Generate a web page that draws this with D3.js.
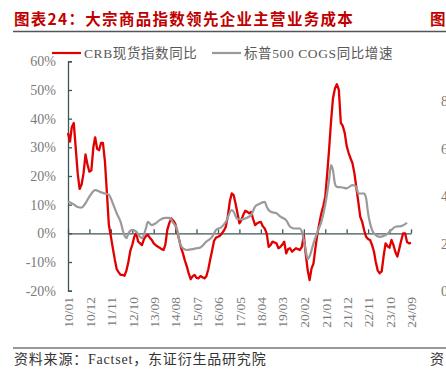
<!DOCTYPE html>
<html>
<head>
<meta charset="utf-8">
<script src="https://cdn.jsdelivr.net/npm/d3@7"></script>
<style>
  body { margin: 0; background: #fff; }
  svg { display: block; }
  text { font-family: "Liberation Serif", "Noto Sans CJK SC", serif; }
</style>
</head>
<body>
<svg id="chart" width="446" height="376"></svg>
<script>
// ---------------------------------------------------------------- data
var crbStart = "2010-01";
// CRB spot index, YoY %, monthly 2010-01 .. 2024-09
var crbValues = [
  35, 32, 37, 38.5, 30, 21, 15.5, 17, 21, 27.5, 24, 21.5,
  22, 30, 33.5, 29.5, 29, 31.5, 31.5, 25, 14, 3, -1, -5,
  -9, -12.5, -13.5, -14.5, -14.5, -14.8, -13, -10, -6, -4, -1.2, 0,
  -2.9, -3.5, -4.1, -2, -1, -0.5, -1.5, -2.3, -3.5, -4.1, -4.6, -5,
  -5.5, -5.8, -4, 1.2, 3.5, 5.2, 4.5, 3.5, 0.6, -2, -5, -7,
  -9.5, -11.6, -14, -16, -15, -14.5, -15.5, -15.7, -14.9, -15.3, -15.7, -15,
  -12.5, -9, -6, -2.5, -1.5, -1.2, -0.8, 0, 1, 2.3, 6, 11,
  13.9, 13.3, 10.5, 7, 3.5, 4.6, 6.5, 7.9, 7.5, 7, 7.5, 5,
  2.9, 3.5, 3.8, 4, 2.5, 1.7, 0, -4.7, -4, -2.9, -3.2, -3.5,
  -5.2, -4.7, -4, -2.9, -7, -5.5, -5.2, -6.4, -5.8, -5.2, -5.5, -5.8,
  -4.7, -0.6, -7, -12.8, -16.3, -12.2, -10.5, -5, 0, 3.5, 7, 9.5,
  12.8, 21, 29, 39, 47, 50.5, 52, 50, 38.5, 37.5, 35, 30.5,
  28, 26.1, 24.5, 21, 16, 11, 5.8, 4, 1, -1.2, -2, -2.3,
  -4, -6.4, -10, -13, -13.9, -13.3, -8, -3.5, -4.5, -5, -2.3, -4,
  -6.5, -8.1, -5.5, -2.5, 0, 0, -3, -3.5, -3.3
];

// S&P 500 COGS, YoY %
var cogsDates = [
  "2010-01","2010-03","2010-06","2010-08","2010-10","2010-12","2011-03","2011-06","2011-08","2011-10","2011-12",
  "2012-02","2012-04","2012-06","2012-07","2012-08","2012-10","2012-12","2013-02","2013-03","2013-05","2013-06",
  "2013-08","2013-10","2013-12","2014-03","2014-05","2014-07","2014-09","2014-10","2014-12","2015-02","2015-04",
  "2015-07","2015-09","2015-12","2016-03","2016-05","2016-08","2016-10","2017-01","2017-02","2017-04","2017-06",
  "2017-08","2017-11","2018-01","2018-03","2018-06","2018-07","2018-09","2018-12","2019-02","2019-05","2019-07",
  "2019-09","2019-12","2020-01","2020-03","2020-04","2020-05","2020-07","2020-09","2020-11","2021-01","2021-03",
  "2021-04","2021-05","2021-06","2021-07","2021-10","2021-12","2022-03","2022-05","2022-06","2022-09","2022-10",
  "2022-11","2023-01","2023-03","2023-05","2023-08","2023-11","2024-01","2024-04","2024-07"
];
var cogsValues = [
  11, 10.5, 9.2, 9, 10.5, 12.8, 15.1, 14.3, 13.9, 13.5, 10.5,
  7, 4, -0.8, -1.7, 0, 1.2, 0.6, -1.2, -1.7, 1.7, 4,
  2.9, 3.5, 4.6, 5.4, 5.4, 3.7, 1.4, -2.3, -5.2, -5.8, -5.6,
  -5.2, -4.9, -2.9, -1.2, 1.2, 2.3, 4, 8.1, 7.5, 5, 4.9,
  5.2, 6.4, 9.3, 10.2, 11, 9.3, 7.5, 7, 5.8, 4.6, 2.3,
  1.7, 1.7, 0.6, -5.8, -9, -8, -3.5, 0.5, 4, 10, 18.6,
  23.8, 22, 17.4, 16.2, 16, 15.7, 16.8, 16.2, 13.9, 13.9, 12.2,
  7, 1.2, -0.6, -1.2, -0.6, 1.2, 2.3, 2.5, 3.7
];

var xTickLabels = ["10/01","10/12","11/11","12/10","13/09","14/08","15/07","16/06","17/05",
                   "18/04","19/03","20/02","21/01","21/12","22/11","23/10","24/09"];
var yTicks = [-20, -10, 0, 10, 20, 30, 40, 50, 60];
var seriesNames = ["CRB现货指数同比", "标普500 COGS同比增速"];
var rightTicks = ["8", "6", "4", "2", "0"];

// ---------------------------------------------------------------- setup
var svg = d3.select('#chart');
var red = '#e00000', grey = '#9a9a9a', axisColor = '#3f5454', labelColor = '#7a7a7a';

var parseYm = d3.utcParse('%Y-%m'), parseTick = d3.utcParse('%y/%m');
var start = parseYm(crbStart);
var crb = crbValues.map(function(v, i){ return { date: d3.utcMonth.offset(start, i), value: v }; });
var cogs = cogsDates.map(function(d, i){ return { date: parseYm(d), value: cogsValues[i] }; });
var tickDates = xTickLabels.map(parseTick);

var x = d3.scaleUtc().domain([tickDates[0], tickDates[tickDates.length-1]]).range([68, 411]);
var y = d3.scaleLinear().domain([-20, 60]).range([290.7, 61.3]);

// title + rules
svg.append('text').attr('x', 14).attr('y', 25)
  .style('font-family', '"Noto Sans CJK SC", sans-serif').style('font-weight', 'bold')
  .style('font-size', '15.5px').style('fill', '#c00000').style('letter-spacing', '1.3px')
  .text('图表24：大宗商品指数领先企业主营业务成本');
svg.append('text').attr('x', 430).attr('y', 25)
  .style('font-family', '"Noto Sans CJK SC", sans-serif').style('font-weight', 'bold')
  .style('font-size', '15.5px').style('fill', '#c00000').text('图');
svg.append('line').attr('x1', 13).attr('x2', 446).attr('y1', 31.5).attr('y2', 31.5)
  .style('stroke', '#555').style('stroke-width', 1.5);

// legend
var legend = [{ x: 52, color: red }, { x: 212, color: grey }];
legend.forEach(function(d, i){
  svg.append('line').attr('x1', d.x).attr('x2', d.x + 29).attr('y1', 53).attr('y2', 53)
    .style('stroke', d.color).style('stroke-width', 2.2);
  svg.append('text').attr('x', d.x + 32).attr('y', 57.5)
    .style('font-size', '13.5px').style('fill', '#595959').style('letter-spacing', '0.6px')
    .text(seriesNames[i]);
});

// y axis
var yAxis = svg.append('g').attr('transform', 'translate(68,0)')
  .call(d3.axisLeft(y).tickValues(yTicks).tickSizeInner(-4).tickSizeOuter(-4).tickPadding(12)
    .tickFormat(function(d){ return d + '%'; }));
yAxis.selectAll('path, line').style('stroke', axisColor).style('stroke-width', 1.3);
yAxis.selectAll('text').style('font-size', '14px').style('fill', labelColor)
  .style('font-family', '"Liberation Serif", serif');

// zero line with upward ticks
var zero = svg.append('g').attr('transform', 'translate(0,' + y(0) + ')')
  .call(d3.axisBottom(x).tickValues(tickDates).tickSizeInner(-4).tickSizeOuter(0).tickFormat(''));
zero.selectAll('path, line').style('stroke', axisColor).style('stroke-width', 1.3);

// bottom labels
var xLab = svg.append('g').attr('transform', 'translate(0,297)')
  .call(d3.axisBottom(x).tickValues(tickDates).tickSize(0).tickFormat(function(d, i){ return xTickLabels[i]; }));
xLab.select('.domain').remove();
xLab.selectAll('text').attr('transform', 'rotate(-90)').attr('x', 0).attr('y', 0).attr('dy', '0.35em')
  .style('text-anchor', 'end').style('font-size', '13.5px').style('fill', labelColor)
  .style('font-family', '"Liberation Serif", serif');

// series
var lineCrb = d3.line().x(function(d){ return x(d.date); }).y(function(d){ return y(d.value); });
var lineCogs = d3.line().curve(d3.curveMonotoneX).x(function(d){ return x(d.date); }).y(function(d){ return y(d.value); });

svg.append('path').datum(crb).attr('d', lineCrb)
  .style('fill', 'none').style('stroke', red).style('stroke-width', 2.3).style('stroke-linejoin', 'round');
svg.append('path').datum(cogs).attr('d', lineCogs)
  .style('fill', 'none').style('stroke', grey).style('stroke-width', 2.2).style('stroke-linejoin', 'round');

// neighbouring chart, cut off at the right edge
rightTicks.forEach(function(t, i){
  svg.append('text').attr('x', 441).attr('y', 106 + i*47.5)
    .style('font-size', '14px').style('fill', labelColor).text(t);
});

// footer
svg.append('line').attr('x1', 13).attr('x2', 446).attr('y1', 348).attr('y2', 348)
  .style('stroke', '#333').style('stroke-width', 1.2);
svg.append('text').attr('x', 14).attr('y', 364)
  .style('font-size', '14px').style('fill', '#333').style('letter-spacing', '0.8px')
  .text('资料来源：Factset，东证衍生品研究院');
svg.append('text').attr('x', 430).attr('y', 364)
  .style('font-size', '14px').style('fill', '#333').text('资');
</script>
</body>
</html>
